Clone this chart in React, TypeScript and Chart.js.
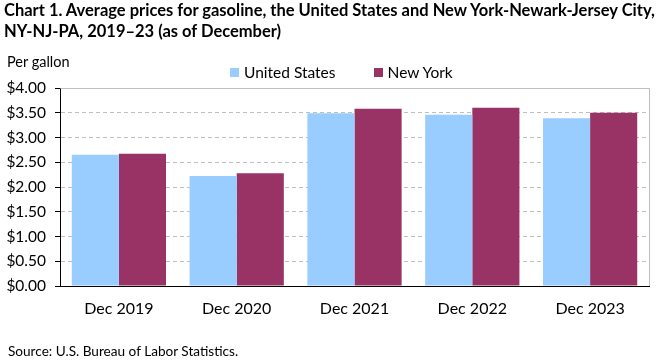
import React, { useEffect, useRef } from "react";
import { Chart, registerables } from "chart.js";

Chart.register(...registerables);

const categories = ["Dec 2019", "Dec 2020", "Dec 2021", "Dec 2022", "Dec 2023"];
const unitedStates = [2.65, 2.22, 3.49, 3.46, 3.39];
const newYork = [2.67, 2.28, 3.58, 3.6, 3.5];
const seriesNames = ["United States", "New York"];
const seriesColors = ["#99CCFF", "#993366"];

const FONT = "Lato, 'Open Sans', sans-serif";

const borderPlugin = {
  id: "topRightBorder",
  afterDraw(chart: any) {
    const { ctx, chartArea } = chart;
    ctx.save();
    ctx.strokeStyle = "#bfbfbf";
    ctx.lineWidth = 1;
    ctx.beginPath();
    ctx.moveTo(Math.round(chartArea.left) + 0.5, Math.round(chartArea.top) + 0.5);
    ctx.lineTo(Math.round(chartArea.right) + 0.5, Math.round(chartArea.top) + 0.5);
    ctx.lineTo(Math.round(chartArea.right) + 0.5, Math.round(chartArea.bottom));
    ctx.stroke();
    ctx.restore();
  },
};

export default function App() {
  const ref = useRef<HTMLCanvasElement>(null);

  useEffect(() => {
    if (!ref.current) return;
    const chart = new Chart(ref.current, {
      type: "bar",
      data: {
        labels: categories,
        datasets: [
          {
            label: seriesNames[0],
            data: unitedStates,
            backgroundColor: seriesColors[0],
            categoryPercentage: 0.8,
            barPercentage: 1.0,
          },
          {
            label: seriesNames[1],
            data: newYork,
            backgroundColor: seriesColors[1],
            categoryPercentage: 0.8,
            barPercentage: 1.0,
          },
        ],
      },
      options: {
        animation: false,
        responsive: false,
        devicePixelRatio: 1,
        layout: { padding: { left: 0, top: 88, right: 12, bottom: 0 } },
        plugins: {
          legend: { display: false },
          tooltip: { enabled: false },
          title: { display: false },
        },
        scales: {
          x: {
            grid: { display: false, drawTicks: false },
            border: { display: true, color: "#000000", width: 1 },
            ticks: {
              color: "#000000",
              font: { family: FONT, size: 16 },
              padding: 13,
            },
            afterFit(scale: any) {
              scale.height = 75;
            },
          },
          y: {
            min: 0,
            max: 4,
            grid: {
              color: "#bfbfbf",
              lineWidth: 1,
              drawTicks: true,
              tickLength: 5,
              tickColor: "#000000",
              tickBorderDash: [],
            },
            border: { display: true, color: "#000000", width: 1, dash: [4, 3] },
            ticks: {
              stepSize: 0.5,
              color: "#000000",
              font: { family: FONT, size: 15.5 },
              padding: 9,
              callback: (v: any) => "$" + Number(v).toFixed(2),
            },
            afterFit(scale: any) {
              scale.width = 60;
            },
          },
        },
      },
      plugins: [borderPlugin],
    });
    return () => chart.destroy();
  }, []);

  const textBase: React.CSSProperties = {
    position: "absolute",
    fontFamily: FONT,
    color: "#000",
    whiteSpace: "nowrap",
    margin: 0,
  };

  return (
    <div style={{ position: "absolute", left: 0, top: 0, width: 661, height: 361, background: "#fff", overflow: "hidden" }}>
      <canvas ref={ref} width={661} height={361} style={{ position: "absolute", left: 0, top: 0, width: 661, height: 361 }} />
      <div style={{ ...textBase, left: 4, top: 0, fontSize: 16.5, fontWeight: 700, lineHeight: "21px" }}>
        Chart 1. Average prices for gasoline, the United States and New York-Newark-Jersey City,
        <br />
        NY-NJ-PA, 2019–23 (as of December)
      </div>
      <div style={{ ...textBase, left: 7, top: 53, fontSize: 14.5, lineHeight: "18px" }}>Per gallon</div>
      <div style={{ ...textBase, left: 230, top: 63, fontSize: 15.5, lineHeight: "18px", display: "flex", alignItems: "center" }}>
        <span style={{ display: "inline-block", width: 9, height: 9, background: seriesColors[0], marginRight: 5 }} />
        <span>{seriesNames[0]}</span>
        <span style={{ display: "inline-block", width: 9, height: 9, background: seriesColors[1], marginLeft: 38, marginRight: 5 }} />
        <span>{seriesNames[1]}</span>
      </div>
      <div style={{ ...textBase, left: 8, top: 343, fontSize: 13.6, lineHeight: "17px" }}>Source: U.S. Bureau of Labor Statistics.</div>
    </div>
  );
}
